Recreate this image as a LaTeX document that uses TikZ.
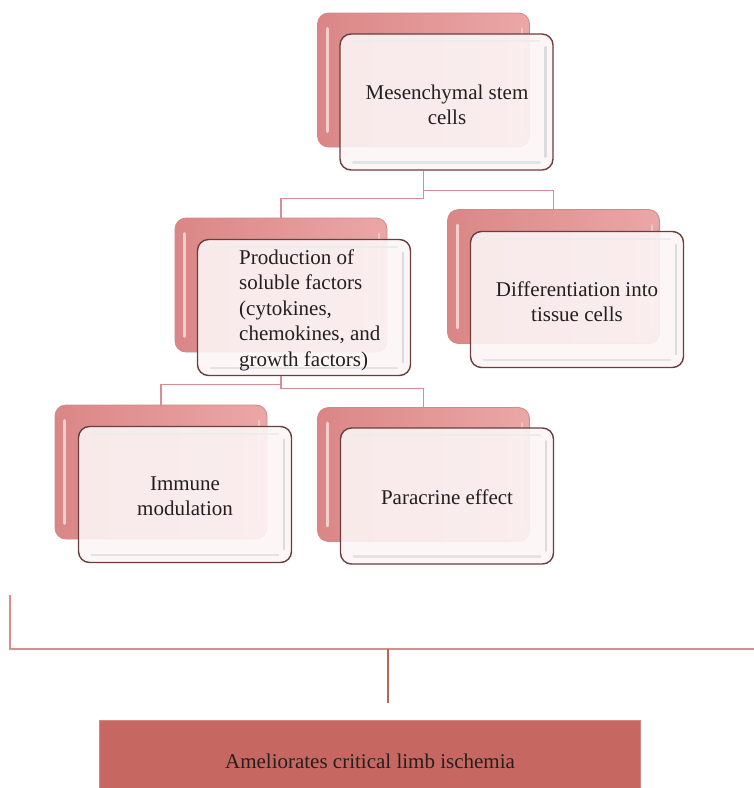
\documentclass[tikz,border=0pt]{standalone}
\usepackage{fontspec}
\setmainfont{Liberation Serif}
\definecolor{lnk}{HTML}{D88E8E}
\definecolor{stemc}{HTML}{C0625C}
\definecolor{amefill}{HTML}{C66861}
\definecolor{bkL}{HTML}{DB8686}
\definecolor{bkR}{HTML}{EBA7A7}
\definecolor{bkdraw}{HTML}{D08888}
\definecolor{frfill}{HTML}{FCF5F5}
\definecolor{frdraw}{HTML}{6B3E3E}
\definecolor{txt}{HTML}{231F20}
\newcommand\bxfont{\fontsize{21}{25.5}\selectfont}
\tikzset{
  backbox/.style={rectangle, rounded corners=11pt, minimum width=212pt, minimum height=134pt,
    draw=bkdraw, line width=0.8pt, left color=bkL, right color=bkR, inner sep=0pt},
  frontbox/.style={rectangle, rounded corners=11pt, minimum width=213pt, minimum height=136pt,
    draw=frdraw, line width=1.4pt, fill=frfill, fill opacity=0.9, text opacity=1,
    text=txt, font=\bxfont, align=center, inner sep=0pt},
  boxtext/.style={text=txt, font=\bxfont, align=center, inner sep=0pt},
  link/.style={draw=lnk, line width=1.2pt},
  bracket/.style={draw=lnk, line width=1.5pt},
  stemline/.style={draw=stemc, line width=1.5pt},
  amebox/.style={rectangle, fill=amefill, draw=bkdraw, line width=0.6pt, minimum width=541pt,
    minimum height=68pt, inner sep=0pt},
}
\begin{document}
\begin{tikzpicture}[x=1pt,y=-1pt]
\useasboundingbox (0,0) rectangle (754,788);
% back boxes
\node[backbox] (mscB) at (423.5,80) {};
\node[backbox] (prodB) at (281,285) {};
\node[backbox] (difB) at (553.5,276.5) {};
\node[backbox] (immB) at (161,472) {};
\node[backbox] (parB) at (423.5,474.5) {};
\foreach \n in {mscB,prodB,difB,immB,parB}{
  \draw[white, line width=3pt, line cap=round, opacity=0.6]
    ([xshift=10pt,yshift=-16pt]\n.north west) -- ([xshift=10pt,yshift=16pt]\n.south west);
  \draw[white, line width=2pt, line cap=round, opacity=0.35]
    ([xshift=-8pt,yshift=-16pt]\n.north east) -- ([xshift=-8pt,yshift=16pt]\n.south east);
}
% front boxes
\node[frontbox] (msc) at (446.5,102) {};
\node[frontbox] (prod) at (304,307.5) {};
\node[frontbox] (dif) at (577,299.5) {};
\node[frontbox] (imm) at (185,494.5) {};
\node[frontbox] (par) at (447,496) {};
\foreach \n in {msc,prod,dif,imm,par}{
  \draw[gray!28, line width=2.5pt, line cap=round]
    ([xshift=-8pt,yshift=-14pt]\n.north east) -- ([xshift=-8pt,yshift=14pt]\n.south east);
  \draw[gray!22, line width=2.5pt, line cap=round]
    ([xshift=14pt,yshift=8pt]\n.south west) -- ([xshift=-14pt,yshift=8pt]\n.south east);
  \draw[gray!15, line width=2pt, line cap=round]
    ([xshift=14pt,yshift=-8pt]\n.north west) -- ([xshift=-14pt,yshift=-8pt]\n.north east);
}
% texts
\node[boxtext] (mscT) at (447,105) {Mesenchymal stem\\cells};
\node[boxtext] (difT) at (577,301.5) {Differentiation into\\tissue cells};
\node[boxtext] (immT) at (185,496) {Immune\\modulation};
\node[boxtext] (parT) at (447,497) {Paracrine effect};
\node[anchor=west, align=left, font=\bxfont, text=txt, inner sep=0pt] (prodT) at (239,310)
  {Production of\\soluble factors\\(cytokines,\\chemokines, and\\growth factors)};
% connectors
\draw[link] (mscB.south |- msc.south) -- ++(0,28) -| (prodB.north);
\draw[link] (mscB.south |- msc.south) -- ++(0,20) -| (difB.north);
\draw[link] (prodB.south |- prod.south) -- ++(0,8) -| (immB.north);
\draw[link] (prodB.south |- prod.south) -- ++(0,12) -| (parB.north);
% bottom
\node[amebox] (ame) at (369.5,754) {};
\node[boxtext] (ameT) at (370,761) {Ameliorates critical limb ischemia};
\coordinate (bl) at (10,595);
\coordinate (bc) at (10,649);
\coordinate (br) at (754,649);
\coordinate (bm) at (388,649);
\coordinate (bs) at (388,703);
\draw[bracket] (bl) -- (bc) -- (br);
\draw[stemline] (bm) -- (bs);
\end{tikzpicture}
\end{document}
